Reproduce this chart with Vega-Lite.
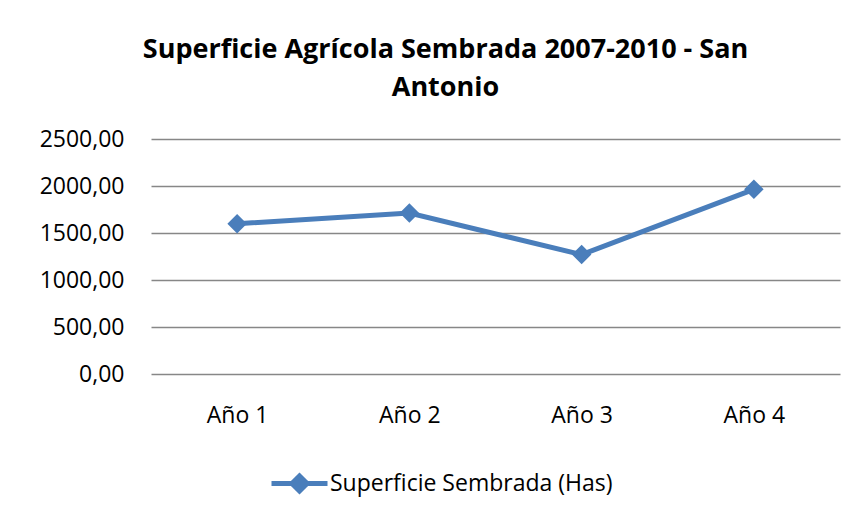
{
  "$schema": "https://vega.github.io/schema/vega-lite/v6.json",
  "autosize": "none",
  "width": 689,
  "height": 235,
  "padding": {"left": 151, "top": 139, "right": 16, "bottom": 147},
  "background": "white",
  "config": {
    "locale": {"number": {"decimal": ",", "thousands": ".", "grouping": [3], "currency": ["$", ""]}},
    "view": {"stroke": null},
    "font": "Open Sans"
  },
  "title": {
    "text": ["Superficie Agrícola Sembrada 2007-2010 - San", "Antonio"],
    "font": "Open Sans",
    "fontSize": 27,
    "fontWeight": "bold",
    "color": "#000000",
    "anchor": "middle",
    "frame": "group",
    "dx": -50,
    "lineHeight": 38,
    "offset": 26
  },
  "data": {
    "values": [
      {"anio": "Año 1", "valor": 1599, "serie": "Superficie Sembrada (Has)"},
      {"anio": "Año 2", "valor": 1713, "serie": "Superficie Sembrada (Has)"},
      {"anio": "Año 3", "valor": 1270, "serie": "Superficie Sembrada (Has)"},
      {"anio": "Año 4", "valor": 1965, "serie": "Superficie Sembrada (Has)"}
    ]
  },
  "encoding": {
    "x": {
      "field": "anio",
      "type": "ordinal",
      "sort": null,
      "scale": {"type": "point", "padding": 0.5},
      "axis": {
        "title": null,
        "labelAngle": 0,
        "labelFont": "Open Sans",
        "labelFontSize": 23,
        "labelColor": "#000000",
        "labelPadding": 30,
        "ticks": false,
        "domain": false,
        "grid": false
      }
    },
    "y": {
      "field": "valor",
      "type": "quantitative",
      "scale": {"domain": [0, 2500], "nice": false},
      "axis": {
        "title": null,
        "values": [0, 500, 1000, 1500, 2000, 2500],
        "format": ".2f",
        "labelFont": "Open Sans",
        "labelFontSize": 23,
        "labelColor": "#000000",
        "labelPadding": 27,
        "ticks": false,
        "domain": false,
        "grid": true,
        "gridColor": "#878787",
        "gridWidth": 1.4
      }
    }
  },
  "layer": [
    {
      "mark": {"type": "line", "strokeWidth": 5, "color": "#4A7EBB"},
      "encoding": {
        "color": {
          "field": "serie",
          "type": "nominal",
          "scale": {"range": ["#4A7EBB"]},
          "legend": {
            "title": null,
            "orient": "none",
            "legendX": 118,
            "legendY": 314,
            "symbolType": "M-1,0L1,0M0,-0.27L0.27,0L0,0.27L-0.27,0Z",
            "symbolSize": 3136,
            "symbolStrokeWidth": 5,
            "symbolFillColor": "#4A7EBB",
            "symbolStrokeColor": "#4A7EBB",
            "symbolOpacity": 1,
            "labelFont": "Open Sans",
            "labelFontSize": 23,
            "labelColor": "#000000",
            "labelOffset": 0,
            "labelLimit": 0,
            "padding": 0
          }
        }
      }
    },
    {
      "mark": {"type": "point", "shape": "diamond", "filled": true, "size": 380, "color": "#4A7EBB", "opacity": 1}
    }
  ]
}
